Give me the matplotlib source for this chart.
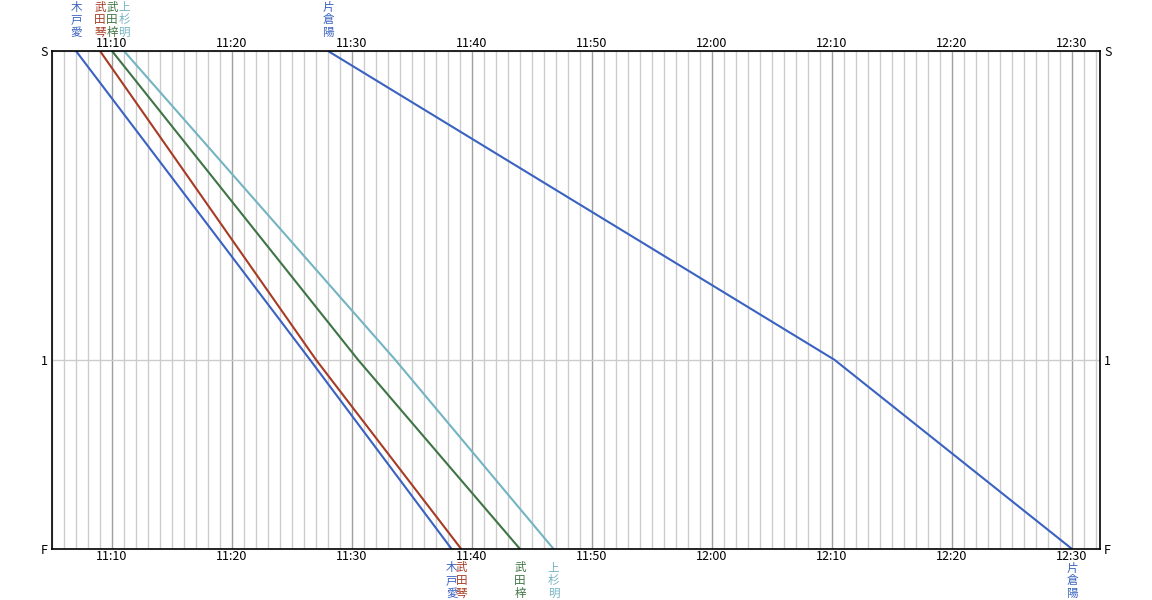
import matplotlib
matplotlib.use("Agg")
import matplotlib.pyplot as plt
from matplotlib.ticker import MultipleLocator, FuncFormatter
import matplotlib.transforms as mtransforms

plt.rcParams['font.family'] = ['Noto Sans CJK JP', 'DejaVu Sans']

# stations (distance from S) and train times in minutes after 11:00
station_names = ["S", "1", "F"]
station_dist = [0.0, 6.2, 10.0]

train_names = ["木戸愛", "武田琴", "武田梓", "上杉明", "片倉陽"]
kido_ai = [7.0, 26.5, 38.3]
takeda_koto = [9.0, 27.0, 39.1]
takeda_azusa = [10.0, 30.5, 44.0]
uesugi_akira = [11.0, 33.6, 46.8]
katakura_hinata = [28.0, 70.2, 90.0]

train_times = [kido_ai, takeda_koto, takeda_azusa, uesugi_akira, katakura_hinata]
train_colors = ["#3a62c0", "#a63c24", "#3f7444", "#74b4c2", "#3a62c0"]


def fmt_time(m, pos=None):
    h = 11 + int(m) // 60
    return f"{h}:{int(m) % 60:02d}"


fig = plt.figure(figsize=(11.52, 6), dpi=100)
ax = fig.add_axes([52 / 1152, 51 / 600, 1048 / 1152, 498 / 600])

for times, color in zip(train_times, train_colors):
    ax.plot(times, station_dist, color=color, lw=1.5, solid_capstyle="butt")

ax.set_xlim(5, 92.33)
ax.set_ylim(station_dist[-1], station_dist[0])

ax.xaxis.set_minor_locator(MultipleLocator(1))
ax.xaxis.set_major_formatter(FuncFormatter(fmt_time))
ax.set_xticks([10, 20, 30, 40, 50, 60, 70, 80, 90])
ax.set_yticks(station_dist)
ax.set_yticklabels(station_names)

ax.grid(which="minor", axis="x", color="#cccccc", lw=1.0)
ax.grid(which="major", axis="x", color="#a0a0a0", lw=1.0)
ax.grid(which="major", axis="y", color="#cccccc", lw=1.0)
ax.set_axisbelow(True)

ax.tick_params(which="both", length=0)
ax.tick_params(axis="x", labeltop=True, labelbottom=True, labelsize=9, pad=1)
ax.tick_params(axis="y", labelleft=True, labelright=True, labelsize=9, pad=3)

for s in ax.spines.values():
    s.set_color("black")
    s.set_linewidth(1.2)

trans = mtransforms.blended_transform_factory(ax.transData, ax.transAxes)
for name, times, color in zip(train_names, train_times, train_colors):
    vname = "\n".join(name)
    ax.annotate(vname, xy=(times[0], 1), xycoords=trans,
                xytext=(0, 8.5), textcoords="offset points",
                ha="center", va="bottom", fontsize=8.3, color=color,
                linespacing=0.98)
    ax.annotate(vname, xy=(times[-1], 0), xycoords=trans,
                xytext=(0, -9), textcoords="offset points",
                ha="center", va="top", fontsize=8.3, color=color,
                linespacing=0.98)

fig.savefig("out.png", dpi=100)
